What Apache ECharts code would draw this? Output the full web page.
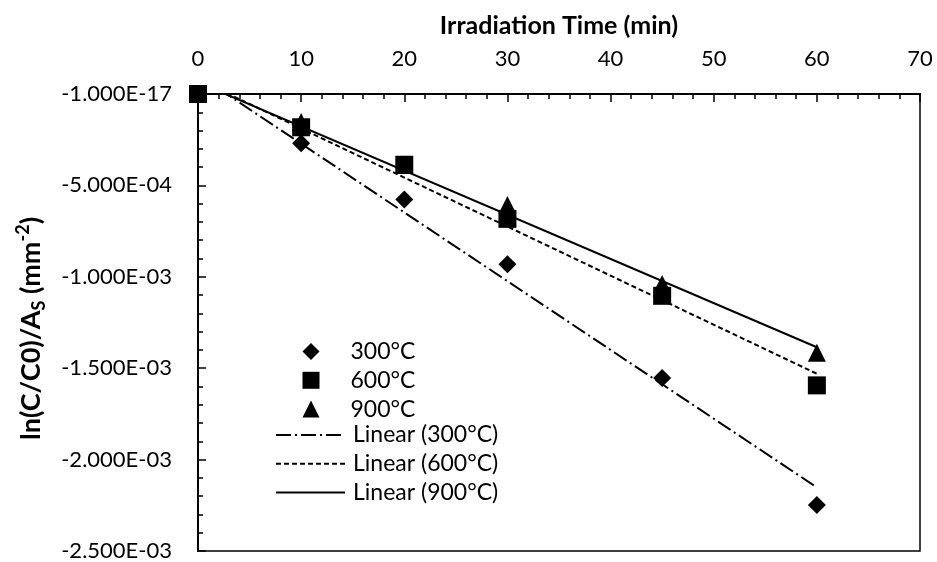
<!DOCTYPE html>
<html>
<head>
<meta charset="utf-8">
<script src="https://cdn.jsdelivr.net/npm/echarts@6/dist/echarts.min.js"></script>
<style>
html,body{margin:0;padding:0;background:#fff;}
#c{width:937px;height:562px;}
</style>
</head>
<body>
<div id="c"></div>
<script>
// ---- data ----
var timeMin = [0, 10, 20, 30, 45, 60];
var y300 = [0, -2.69e-4, -5.77e-4, -9.31e-4, -1.554e-3, -2.248e-3];
var y600 = [0, -1.82e-4, -3.87e-4, -6.83e-4, -1.104e-3, -1.594e-3];
var y900 = [0, -1.53e-4, -3.88e-4, -6.07e-4, -1.039e-3, -1.415e-3];
var seriesNames = ['300°C', '600°C', '900°C'];
var trendNames = ['Linear (300°C)', 'Linear (600°C)', 'Linear (900°C)'];
var yTickLabels = ['-1.000E-17', '-5.000E-04', '-1.000E-03', '-1.500E-03', '-2.000E-03', '-2.500E-03'];
var xTickLabels = ['0', '10', '20', '30', '40', '50', '60', '70'];

function pairs(xs, ys) { return xs.map(function (x, i) { return [x, ys[i]]; }); }
// least-squares trendline (as the spreadsheet's "Linear" trendline), spanning the data's x range
function trend(xs, ys) {
  var n = xs.length, sx = 0, sy = 0, sxx = 0, sxy = 0;
  for (var i = 0; i < n; i++) { sx += xs[i]; sy += ys[i]; sxx += xs[i] * xs[i]; sxy += xs[i] * ys[i]; }
  var m = (n * sxy - sx * sy) / (n * sxx - sx * sx);
  var b = (sy - m * sx) / n;
  var x0 = Math.min.apply(null, xs), x1 = Math.max.apply(null, xs);
  return [[x0, m * x0 + b], [x1, m * x1 + b]];
}

var FONT = 'Lato';
var chart = echarts.init(document.getElementById('c'), null, { renderer: 'canvas' });
var scatterBase = { type: 'scatter', symbolSize: 18, itemStyle: { color: '#000', opacity: 1 }, emphasis: { disabled: true } };
var lineBase = { type: 'line', symbol: 'none', showSymbol: false, silent: true, emphasis: { disabled: true }, clip: true };
var legendText = { fontFamily: FONT, fontSize: 23, lineHeight: 22, color: '#000' };
var hiddenSymbol = { color: 'rgba(0,0,0,0)', opacity: 0, borderWidth: 0 };

chart.setOption({
  animation: false,
  backgroundColor: '#fff',
  grid: { left: 198, top: 94, width: 722, height: 459, show: true, borderColor: '#000', borderWidth: 1.5, backgroundColor: 'transparent' },
  xAxis: {
    type: 'value', position: 'top', min: 0, max: 70, interval: 10,
    name: 'Irradiation Time (min)', nameLocation: 'middle', nameGap: 56,
    nameTextStyle: { fontFamily: FONT, fontWeight: 'bold', fontSize: 25, color: '#000' },
    axisLine: { show: true, onZero: false, lineStyle: { color: '#000', width: 2 } },
    axisTick: { show: true, inside: true, length: 8, lineStyle: { color: '#000', width: 1.5 } },
    minorTick: { show: true, splitNumber: 5, length: 5, lineStyle: { color: '#000', width: 1.5 } },
    axisLabel: { fontFamily: FONT, fontSize: 22, color: '#000', margin: 24,
      formatter: function (v) { return xTickLabels[Math.round(v / 10)]; } },
    splitLine: { show: false }
  },
  yAxis: {
    type: 'value', min: -2.5e-3, max: 0, interval: 5e-4,
    name: '{n|ln(C/C0)/A}{sub|S}{n| (mm}{sup|-2}{n|)}', nameLocation: 'middle', nameGap: 150,
    nameTextStyle: {
      padding: [0, 12, 0, 0],
      rich: {
        n: { fontFamily: FONT, fontWeight: 'bold', fontSize: 27, lineHeight: 34, color: '#000' },
        sub: { fontFamily: FONT, fontWeight: 'bold', fontSize: 18, lineHeight: 16, verticalAlign: 'bottom', color: '#000' },
        sup: { fontFamily: FONT, fontWeight: 'bold', fontSize: 18, lineHeight: 18, verticalAlign: 'top', color: '#000' }
      }
    },
    axisLine: { show: true, onZero: false, lineStyle: { color: '#000', width: 2 } },
    axisTick: { show: true, inside: true, length: 8, lineStyle: { color: '#000', width: 1.5 } },
    minorTick: { show: true, splitNumber: 5, length: 5, lineStyle: { color: '#000', width: 1.5 } },
    axisLabel: { fontFamily: FONT, fontSize: 22, color: '#000', margin: 26,
      formatter: function (v) { return yTickLabels[Math.round(-v / 5e-4)]; } },
    splitLine: { show: false }
  },
  legend: [
    {
      orient: 'vertical', left: 297.5, top: 335,
      itemWidth: 17, itemHeight: 17, itemGap: 5.8,
      data: [
        { name: seriesNames[0], icon: 'diamond' },
        { name: seriesNames[1], icon: 'rect' },
        { name: seriesNames[2], icon: 'triangle' }
      ],
      textStyle: Object.assign({ padding: [0, 0, 0, 26] }, legendText),
      selectedMode: false
    },
    {
      orient: 'vertical', left: 270, top: 335 + 3 * 27.8,
      itemWidth: 69, itemHeight: 15, itemGap: 5.8,
      data: [
        { name: trendNames[0], itemStyle: hiddenSymbol },
        { name: trendNames[1], itemStyle: hiddenSymbol },
        { name: trendNames[2], itemStyle: hiddenSymbol }
      ],
      textStyle: Object.assign({ padding: [0, 0, 0, 3] }, legendText),
      selectedMode: false
    }
  ],
  series: [
    Object.assign({}, scatterBase, { name: seriesNames[0], symbol: 'diamond', data: pairs(timeMin, y300) }),
    Object.assign({}, scatterBase, { name: seriesNames[2], symbol: 'triangle', data: pairs(timeMin, y900) }),
    Object.assign({}, scatterBase, { name: seriesNames[1], symbol: 'rect', data: pairs(timeMin, y600) }),
    Object.assign({}, lineBase, { name: trendNames[0], data: trend(timeMin, y300), lineStyle: { color: '#000', width: 2, type: [15, 4, 2, 4] }, itemStyle: { color: '#000' } }),
    Object.assign({}, lineBase, { name: trendNames[1], data: trend(timeMin, y600), lineStyle: { color: '#000', width: 2, type: [5, 3] }, itemStyle: { color: '#000' } }),
    Object.assign({}, lineBase, { name: trendNames[2], data: trend(timeMin, y900), lineStyle: { color: '#000', width: 2, type: 'solid' }, itemStyle: { color: '#000' } })
  ]
});
</script>
</body>
</html>
